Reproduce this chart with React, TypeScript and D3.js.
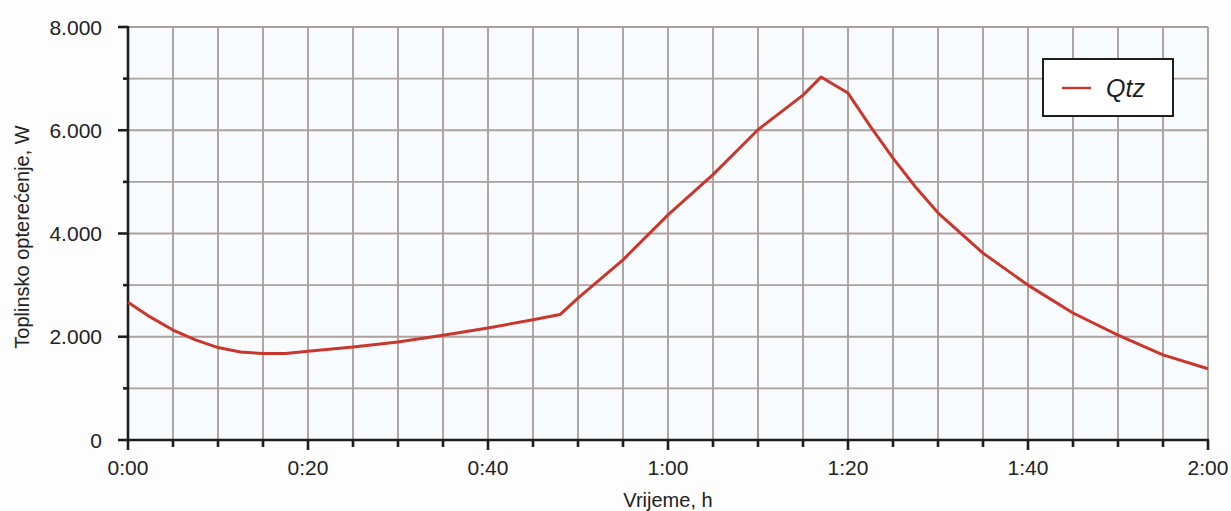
import React, { useEffect, useRef } from 'react';
import * as d3 from 'd3';

// time in minutes from 0:00, load in W
const minutes = [0, 2.5, 5, 7.5, 10, 12.5, 15, 17.5, 20, 25, 30, 35, 40, 45, 48, 50, 55, 60, 65, 70, 75, 77, 80, 82.5, 85, 87.5, 90, 95, 100, 105, 110, 115, 120];
const qtz = [2670, 2380, 2130, 1940, 1790, 1705, 1675, 1675, 1720, 1800, 1900, 2030, 2170, 2330, 2430, 2750, 3490, 4360, 5140, 6010, 6680, 7030, 6720, 6070, 5460, 4900, 4400, 3620, 3000, 2460, 2030, 1650, 1380];

const xTicks = [0, 20, 40, 60, 80, 100, 120];
const xTickLabels = ['0:00', '0:20', '0:40', '1:00', '1:20', '1:40', '2:00'];
const yTicks = [0, 2000, 4000, 6000, 8000];
const yTickLabels = ['0', '2.000', '4.000', '6.000', '8.000'];

const W = 1231;
const H = 511;

const App = () => {
    const svgRef = useRef<SVGSVGElement>(null);

    useEffect(() => {
        const svg = d3.select(svgRef.current);
        svg.selectAll('*').remove();

        const font = 'Liberation Sans, Arial, sans-serif';
        const left = 128, right = 1208, top = 27, bottom = 440;

        const x = d3.scaleLinear().domain([0, 120]).range([left, right]);
        const y = d3.scaleLinear().domain([0, 8000]).range([bottom, top]);

        svg.append('rect').attr('width', W).attr('height', H).attr('fill', '#fdfdfd');
        svg.append('rect')
            .attr('x', left).attr('y', top)
            .attr('width', right - left).attr('height', bottom - top)
            .attr('fill', '#f8fbfd');

        // grid
        const grid = svg.append('g').attr('stroke', '#ada19d').attr('stroke-width', 1.9);
        d3.range(5, 121, 5).forEach(m => {
            grid.append('line')
                .attr('x1', x(m)).attr('x2', x(m))
                .attr('y1', top).attr('y2', bottom);
        });
        d3.range(1000, 8001, 1000).forEach(v => {
            grid.append('line')
                .attr('x1', left).attr('x2', right)
                .attr('y1', y(v)).attr('y2', y(v));
        });

        // axes
        const ax = svg.append('g').attr('stroke', '#1e1e1e').attr('stroke-width', 2.6);
        ax.append('line').attr('x1', left).attr('x2', left).attr('y1', top - 1).attr('y2', bottom + 1);
        ax.append('line').attr('x1', left - 1).attr('x2', right + 1).attr('y1', bottom).attr('y2', bottom);

        d3.range(0, 121, 5).forEach(m => {
            const major = m % 20 === 0;
            ax.append('line')
                .attr('x1', x(m)).attr('x2', x(m))
                .attr('y1', bottom).attr('y2', bottom + (major ? 10 : 7));
        });
        d3.range(0, 8001, 1000).forEach(v => {
            const major = v % 2000 === 0;
            ax.append('line')
                .attr('x1', left - (major ? 10 : 5)).attr('x2', left)
                .attr('y1', y(v)).attr('y2', y(v));
        });

        svg.append('g').selectAll('text')
            .data(xTicks)
            .enter().append('text')
            .attr('x', d => x(d))
            .attr('y', 475)
            .attr('text-anchor', 'middle')
            .attr('font-family', font)
            .attr('font-size', 21)
            .attr('fill', '#222')
            .text((d, i) => xTickLabels[i]);

        svg.append('g').selectAll('text')
            .data(yTicks)
            .enter().append('text')
            .attr('x', 102)
            .attr('y', d => y(d))
            .attr('dy', '0.36em')
            .attr('text-anchor', 'end')
            .attr('font-family', font)
            .attr('font-size', 21)
            .attr('fill', '#222')
            .text((d, i) => yTickLabels[i]);

        svg.append('text')
            .attr('x', (left + right) / 2)
            .attr('y', 507)
            .attr('text-anchor', 'middle')
            .attr('font-family', font)
            .attr('font-size', 20)
            .attr('fill', '#222')
            .text('Vrijeme, h');

        svg.append('text')
            .attr('transform', `translate(29, 237) rotate(-90)`)
            .attr('text-anchor', 'middle')
            .attr('font-family', font)
            .attr('font-size', 20)
            .attr('fill', '#222')
            .text('Toplinsko opterećenje, W');

        // series
        const line = d3.line<number>()
            .x((d, i) => x(minutes[i]))
            .y(d => y(d));
        svg.append('path')
            .datum(qtz)
            .attr('d', line)
            .attr('fill', 'none')
            .attr('stroke', '#c9372c')
            .attr('stroke-width', 3)
            .attr('stroke-linejoin', 'round');

        // legend
        const lg = svg.append('g');
        lg.append('rect')
            .attr('x', 1043).attr('y', 59)
            .attr('width', 130).attr('height', 57)
            .attr('fill', '#ffffff')
            .attr('stroke', '#1e1e1e').attr('stroke-width', 2);
        lg.append('line')
            .attr('x1', 1062).attr('x2', 1091)
            .attr('y1', 88).attr('y2', 88)
            .attr('stroke', '#c9372c').attr('stroke-width', 2.4);
        lg.append('text')
            .attr('x', 1106).attr('y', 97)
            .attr('font-family', font)
            .attr('font-style', 'italic')
            .attr('font-size', 25)
            .attr('fill', '#1e1e1e')
            .text('Qtz');
    }, []);

    return (
        <svg ref={svgRef} width={W} height={H} style={{ position: 'absolute', left: 0, top: 0 }}></svg>
    );
};

export default App;
